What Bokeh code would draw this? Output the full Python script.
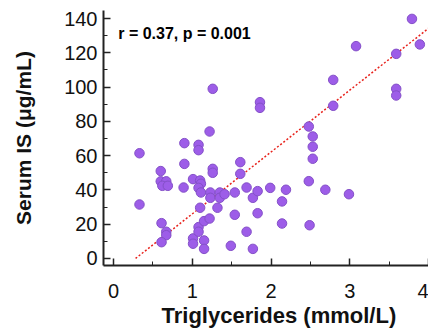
from bokeh.plotting import figure
from bokeh.models import Range1d, SingleIntervalTicker, Label, ColumnDataSource, Title
from bokeh.embed import file_html
from bokeh.resources import INLINE

# ---- data ----
tg = [0.33, 0.33, 0.60, 0.60, 0.67, 0.62, 0.69, 0.61, 0.67, 0.67, 0.61,
      0.90, 0.90, 0.89, 1.01, 1.01, 1.01, 1.08, 1.08, 1.10, 1.11, 1.08, 1.11, 1.10, 1.08, 1.08,
      1.15, 1.15, 1.15, 1.22, 1.22, 1.23, 1.23, 1.26, 1.26, 1.26, 1.32, 1.35, 1.35, 1.41, 1.49,
      1.54, 1.54, 1.61, 1.61, 1.69, 1.69, 1.77, 1.77, 1.83, 1.83, 1.86, 1.86, 1.99, 2.14, 2.14,
      2.19, 2.48, 2.48, 2.53, 2.53, 2.53, 2.49, 2.69, 2.79, 2.79, 2.99, 3.08, 3.59, 3.59, 3.59,
      3.79, 3.89]
serum_is = [61.4, 31.5, 51.0, 45.0, 45.0, 42.4, 42.4, 20.6, 15.6, 13.6, 9.5,
            67.3, 55.2, 41.4, 46.3, 11.7, 8.6, 66.3, 63.2, 45.5, 43.6, 41.2, 38.5, 29.6, 18.3, 15.6,
            21.8, 10.5, 5.6, 74.1, 23.3, 38.5, 35.4, 52.3, 50.0, 99.0, 29.6, 38.5, 35.4, 37.5, 7.4,
            38.5, 25.5, 56.2, 49.4, 41.4, 15.6, 5.6, 35.4, 39.3, 26.4, 91.2, 87.9, 41.2, 33.3, 20.4,
            40.1, 45.1, 77.0, 71.2, 65.2, 58.2, 19.4, 40.1, 104.2, 89.1, 37.5, 123.9, 119.4, 99.0, 95.1,
            139.8, 124.9]
fit_slope = 36.1
fit_intercept = -10.1
fit_x = [0.28, 4.0]
fit_y = [fit_slope * v + fit_intercept for v in fit_x]
stat_text = "r = 0.37, p = 0.001"
x_title = "Triglycerides (mmol/L)"
y_title = "Serum IS (\u03bcg/mL)"

FONT = "Liberation Sans"

p = figure(width=428, height=335, output_backend="svg", toolbar_location=None,
           x_range=Range1d(-0.127, 4.0), y_range=Range1d(-4.1, 144.7),
           min_border_left=103, min_border_right=0, min_border_top=10, min_border_bottom=70)
p.outline_line_color = None
p.grid.visible = False
p.background_fill_color = "white"
p.border_fill_color = "white"

# regression line
p.line(fit_x, fit_y, line_color="#e8221c", line_width=1.5, line_dash="2 2")

# points
src = ColumnDataSource(dict(x=tg, y=serum_is))
p.scatter("x", "y", source=src, size=9.5, fill_color="#9d5de8", line_color="#8450c8",
          line_width=1, fill_alpha=1.0)

# stat annotation
p.add_layout(Label(x=0.06, y=131, text=stat_text, text_font=FONT, text_font_size="16px",
                   text_font_style="bold", text_baseline="middle", text_color="black"))

# axes
p.xaxis.ticker = SingleIntervalTicker(interval=1, num_minor_ticks=2)
p.yaxis.ticker = SingleIntervalTicker(interval=20, num_minor_ticks=2)
for ax in (p.xaxis, p.yaxis):
    ax.axis_line_color = "#222222"
    ax.axis_line_width = 2
    ax.major_tick_line_color = "#222222"
    ax.minor_tick_line_color = "#222222"
    ax.major_tick_line_width = 1.5
    ax.minor_tick_line_width = 1
    ax.major_tick_in = 7
    ax.major_tick_out = 0
    ax.minor_tick_in = 4
    ax.minor_tick_out = 0
    ax.major_label_text_font = FONT
    ax.major_label_text_font_size = "20px"
    ax.major_label_text_color = "#111111"
    ax.axis_label_text_font = FONT
    ax.axis_label_text_font_size = "21px"
    ax.axis_label_text_font_style = "bold"
    ax.axis_label_text_color = "#111111"

p.yaxis.axis_label = y_title
p.xaxis.major_label_standoff = 18
p.yaxis.major_label_standoff = 6
p.yaxis.axis_label_standoff = 26

# x-axis title as a below-panel title, shifted right like the reference
p.add_layout(Title(text=x_title, align="left", offset=58, standoff=0,
                   text_font=FONT, text_font_size="22px", text_font_style="bold",
                   text_color="#111111"), "below")

open("out.html", "w").write(file_html(p, INLINE))
